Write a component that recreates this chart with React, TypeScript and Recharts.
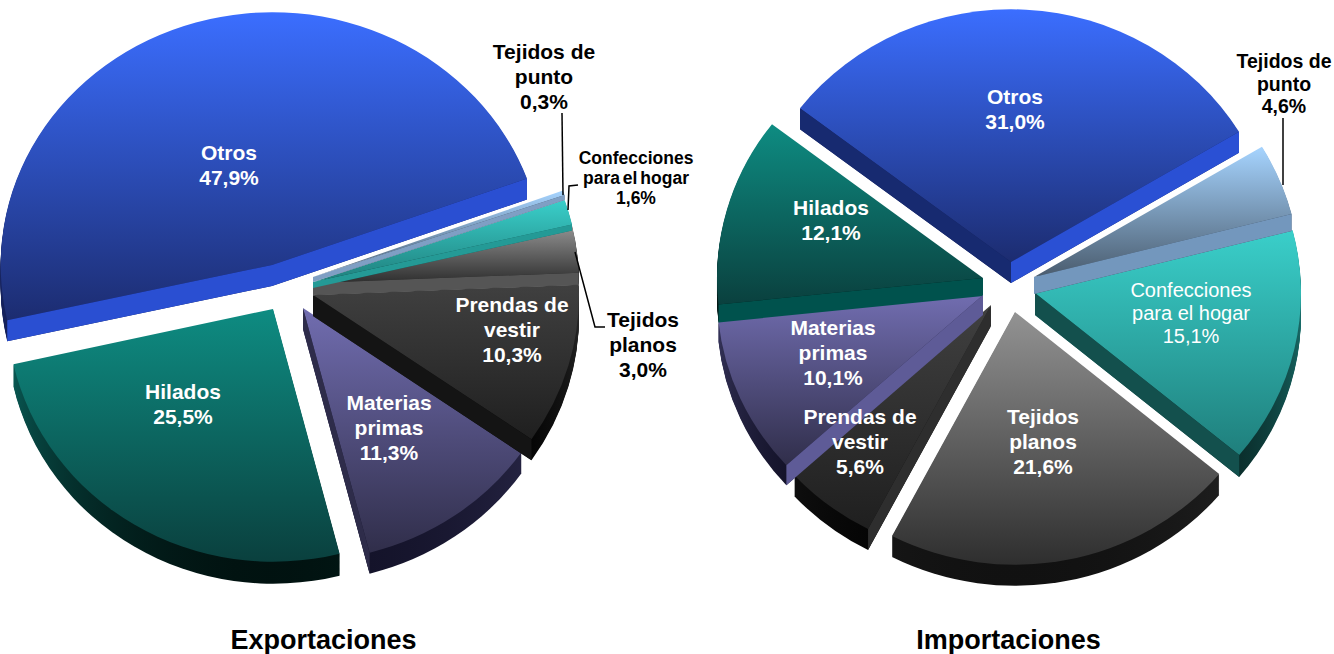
import { PieChart, Pie, Sector } from 'recharts'

const SHARES_NAMES = ['Otros', 'Hilados', 'Materias primas', 'Prendas de vestir', 'Tejidos planos', 'Confecciones para el hogar', 'Tejidos de punto']
const EXPORT_VALUES = [47.9, 25.5, 11.3, 10.3, 3.0, 1.6, 0.3]
const IMPORT_VALUES = [31.0, 12.1, 10.1, 5.6, 21.6, 15.1, 4.6]

// ── Look of the slices ────────────────────────────────────────────────────────

const TOP_FROM = ['#3b6eff', '#0e8c82', '#716db0', '#404040', '#939393', '#3acfca', '#a6d4ff']
const TOP_TO = ['#1c2c70', '#0a403e', '#302e4a', '#1f1f1f', '#2e2e2e', '#1f7f7c', '#4a5c6e']
const ARC_FROM = ['#1c2c70', '#0b6a64', '#3a3860', '#2a2a2a', '#333333', '#1f8a86', '#4a5c6e']
const ARC_TO = ['#14205a', '#011210', '#14132a', '#050505', '#111111', '#0a2e2c', '#33414f']

const EXPORT_START_WALLS = ['#2a4fd2', '#00524d', '#2e2c4a', '#141414', '#555555', '#249a96', '#7f9fc4']
const EXPORT_END_WALLS = ['#2a4fd2', '#00524d', '#5e5b97', '#141414', '#555555', '#249a96', '#7f9fc4']
const IMPORT_START_WALLS = ['#2a50d4', '#00524d', '#5e5b97', '#2e2e2e', '#555555', '#13504d', '#7397bd']
const IMPORT_END_WALLS = ['#172a70', '#00524d', '#5e5b97', '#2e2e2e', '#555555', '#13504d', '#7397bd']

const EXPORT_SHIFT_X = [-28, -27, 3, 13, 13, 13, 13]
const EXPORT_SHIFT_Y = [-20, 24, 23, 10, -2, -3, -8]
const EXPORT_DEPTH = [21, 22, 21, 21, 12, 6, 5]
const EXPORT_SPREAD = [1.02, 1, 1, 1, 1, 1, 1]
const IMPORT_SHIFT_X = [-9, -37, -37, -29, -5, 15, 14]
const IMPORT_SHIFT_Y = [-18, -2, 15, 25, 32, 13, -3]
const IMPORT_DEPTH = [21, 18, 20, 21, 21, 22, 17]
const IMPORT_SPREAD = [1, 1, 1, 1, 1, 1, 1]

const TILT = 0.95
const RADIUS = 266

const EXPORT_CX = 300
const EXPORT_CY = 285
const IMPORT_CX = 1020
const IMPORT_CY = 280

interface LabelSpec {
  lines: string[]
  x: number
  y: number
  size?: number
  step?: number
  color?: string
  weight?: number
  wordGap?: number
  leader?: string
}

const EXPORT_LABELS: LabelSpec[] = [
  { lines: ['Otros', '47,9%'], x: 229, y: 160 },
  { lines: ['Hilados', '25,5%'], x: 183, y: 399 },
  { lines: ['Materias', 'primas', '11,3%'], x: 389, y: 410 },
  { lines: ['Prendas de', 'vestir', '10,3%'], x: 512, y: 312 },
  { lines: ['Tejidos', 'planos', '3,0%'], x: 643, y: 327, color: '#000', leader: '575,252 595,327 605,327' },
  { lines: ['Confecciones', 'para el hogar', '1,6%'], x: 636, y: 164, size: 17.5, step: 20, color: '#000', wordGap: -2, leader: '568,210 569,186 578,185' },
  { lines: ['Tejidos de', 'punto', '0,3%'], x: 544, y: 59, color: '#000', leader: '562,113 563,195' },
]

const IMPORT_LABELS: LabelSpec[] = [
  { lines: ['Otros', '31,0%'], x: 1015, y: 104 },
  { lines: ['Hilados', '12,1%'], x: 831, y: 215 },
  { lines: ['Materias', 'primas', '10,1%'], x: 833, y: 335 },
  { lines: ['Prendas de', 'vestir', '5,6%'], x: 860, y: 424 },
  { lines: ['Tejidos', 'planos', '21,6%'], x: 1043, y: 424 },
  { lines: ['Confecciones', 'para el hogar', '15,1%'], x: 1191, y: 297, size: 20, step: 23, weight: 400 },
  { lines: ['Tejidos de', 'punto', '4,6%'], x: 1284, y: 68, size: 19.5, step: 22.5, color: '#000', leader: '1283,118 1283,185' },
]

function buildRows(values: number[], shiftX: number[], shiftY: number[], depth: number[], spread: number[], startWalls: string[], endWalls: string[], labels: LabelSpec[]) {
  return SHARES_NAMES.map((name, i) => ({
    name,
    value: values[i],
    slot: i,
    shiftX: shiftX[i],
    shiftY: shiftY[i],
    depth: depth[i],
    spread: spread[i],
    startWall: startWalls[i],
    endWall: endWalls[i],
    spec: labels[i],
  }))
}

const exportRows = buildRows(EXPORT_VALUES, EXPORT_SHIFT_X, EXPORT_SHIFT_Y, EXPORT_DEPTH, EXPORT_SPREAD, EXPORT_START_WALLS, EXPORT_END_WALLS, EXPORT_LABELS)
const importRows = buildRows(IMPORT_VALUES, IMPORT_SHIFT_X, IMPORT_SHIFT_Y, IMPORT_DEPTH, IMPORT_SPREAD, IMPORT_START_WALLS, IMPORT_END_WALLS, IMPORT_LABELS)

const rad = (deg: number) => (deg * Math.PI) / 180

function SliceBody(props: any) {
  const { cx, cy, outerRadius, startAngle, endAngle, payload } = props
  const row = payload ?? props
  const sector = { cx, cy, innerRadius: 0, outerRadius, startAngle, endAngle }
  const place = (down: number) =>
    `translate(${cx + row.shiftX},${cy + row.shiftY + down}) scale(${row.spread},${TILT}) translate(${-cx},${-cy})`
  const layers = []
  for (let d = row.depth; d > 0; d--) {
    layers.push(
      <g key={d} transform={place(d)}>
        <Sector {...sector} fill={`url(#arc-${row.slot})`} stroke="none" />
      </g>,
    )
  }
  return (
    <g>
      {layers}
      <g transform={place(0)}>
        <Sector {...sector} fill={`url(#top-${row.slot})`} stroke="none" />
      </g>
    </g>
  )
}

// radial side faces, only those turned towards the viewer
function SliceWalls(props: any) {
  const { cx, cy, outerRadius, startAngle, endAngle, payload } = props
  const row = payload ?? props
  const ax = cx + row.shiftX
  const ay = cy + row.shiftY
  const wallAt = (angle: number) => {
    const ex = ax + outerRadius * row.spread * Math.cos(rad(angle))
    const ey = ay - outerRadius * TILT * Math.sin(rad(angle))
    return `${ax},${ay} ${ex},${ey} ${ex},${ey + row.depth} ${ax},${ay + row.depth}`
  }
  return (
    <g>
      {Math.cos(rad(startAngle)) > 0 && <polygon points={wallAt(startAngle)} fill={row.startWall} />}
      {Math.cos(rad(endAngle)) < 0 && <polygon points={wallAt(endAngle)} fill={row.endWall} />}
    </g>
  )
}

function SliceLabel(props: any) {
  const spec: LabelSpec = (props.payload ?? props).spec
  const size = spec.size ?? 21
  const step = spec.step ?? 25
  const color = spec.color ?? '#fff'
  return (
    <g>
      {spec.leader && <polyline points={spec.leader} fill="none" stroke="#000" strokeWidth={1.5} />}
      {spec.lines.map((line, i) => (
        <text
          key={line}
          x={spec.x}
          y={spec.y + i * step}
          textAnchor="middle"
          fontFamily="Liberation Sans, Arial, sans-serif"
          fontWeight={spec.weight ?? 700}
          fontSize={size}
          wordSpacing={spec.wordGap}
          fill={color}
        >
          {line}
        </text>
      ))}
    </g>
  )
}

const titleStyle: React.CSSProperties = {
  position: 'absolute',
  top: 625,
  width: 400,
  textAlign: 'center',
  fontFamily: 'Liberation Sans, Arial, sans-serif',
  fontWeight: 700,
  fontSize: 27,
  lineHeight: '30px',
  color: '#000',
}

export default function App() {
  const pieProps = { dataKey: 'value', outerRadius: RADIUS, isAnimationActive: false, stroke: 'none' }
  return (
    <div style={{ position: 'absolute', left: 0, top: 0, width: 1334, height: 654, overflow: 'hidden', background: '#fff' }}>
      <PieChart width={1334} height={654} margin={{ top: 0, right: 0, bottom: 0, left: 0 }}>
        <defs>
          {TOP_FROM.map((from, i) => (
            <linearGradient key={i} id={`top-${i}`} x1="0" y1="0" x2="0" y2="1">
              <stop offset="0%" stopColor={from} />
              <stop offset="100%" stopColor={TOP_TO[i]} />
            </linearGradient>
          ))}
          {ARC_FROM.map((from, i) => (
            <linearGradient key={i} id={`arc-${i}`} x1="0" y1="0" x2="0" y2="1">
              <stop offset="0%" stopColor={from} />
              <stop offset="100%" stopColor={ARC_TO[i]} />
            </linearGradient>
          ))}
        </defs>
        <Pie {...pieProps} data={exportRows} cx={EXPORT_CX} cy={EXPORT_CY} startAngle={20} endAngle={380} shape={SliceBody} />
        <Pie {...pieProps} data={importRows} cx={IMPORT_CX} cy={IMPORT_CY} startAngle={31} endAngle={391} shape={SliceBody} />
        <Pie {...pieProps} data={exportRows} cx={EXPORT_CX} cy={EXPORT_CY} startAngle={20} endAngle={380} shape={SliceWalls} label={SliceLabel} labelLine={false} />
        <Pie {...pieProps} data={importRows} cx={IMPORT_CX} cy={IMPORT_CY} startAngle={31} endAngle={391} shape={SliceWalls} label={SliceLabel} labelLine={false} />
      </PieChart>
      <div style={{ ...titleStyle, left: 123.5 }}>Exportaciones</div>
      <div style={{ ...titleStyle, left: 808.5 }}>Importaciones</div>
    </div>
  )
}
